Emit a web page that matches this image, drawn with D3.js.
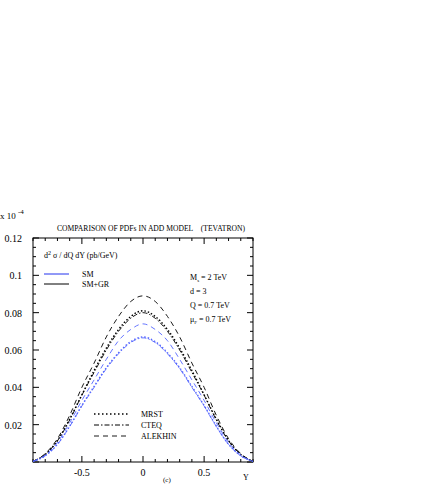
<!DOCTYPE html><html><head><meta charset="utf-8"><script src="https://cdn.jsdelivr.net/npm/d3@7"></script>
<style>body{margin:0;background:#fff}text{font-family:"Liberation Serif",serif;fill:#000}</style></head><body><svg id="c" width="436" height="491"></svg><script>
const Ys=[-0.9,-0.8,-0.7,-0.6,-0.5,-0.4,-0.3,-0.2,-0.1,0,0.1,0.2,0.3,0.4,0.5,0.6,0.7,0.8,0.9];
const alekhinGR=[0.0004,0.0045,0.0125,0.025,0.040,0.053,0.067,0.078,0.086,0.089,0.086,0.078,0.067,0.053,0.040,0.025,0.0125,0.0045,0.0004];
const mrstGR=[0.0004,0.004,0.0115,0.023,0.036,0.049,0.061,0.071,0.078,0.081,0.078,0.071,0.061,0.049,0.036,0.023,0.0115,0.004,0.0004];
const cteqGR=[0.0004,0.004,0.0113,0.0225,0.0358,0.048,0.060,0.070,0.077,0.080,0.077,0.070,0.060,0.048,0.0358,0.0225,0.0113,0.004,0.0004];
const alekhinSM=[0.0003,0.0037,0.0105,0.021,0.033,0.044,0.055,0.065,0.071,0.074,0.071,0.065,0.055,0.044,0.033,0.021,0.0105,0.0037,0.0003];
const mrstSM=[0.0003,0.0034,0.0095,0.0192,0.0303,0.0405,0.0505,0.0585,0.0645,0.067,0.0645,0.0585,0.0505,0.0405,0.0303,0.0192,0.0095,0.0034,0.0003];
const cteqSM=[0.0003,0.0033,0.0094,0.019,0.030,0.040,0.050,0.058,0.064,0.0665,0.064,0.058,0.050,0.040,0.030,0.019,0.0094,0.0033,0.0003];
const xTicks=[-0.5,0,0.5], yTicks=[0.02,0.04,0.06,0.08,0.1,0.12];
const svg=d3.select("#c");
const L=33,R=253,T=238,B=462;
const x=d3.scaleLinear().domain([-0.9,0.9]).range([L,R]);
const y=d3.scaleLinear().domain([0,0.12]).range([B,T]);
svg.append("rect").attr("x",L).attr("y",T).attr("width",R-L).attr("height",B-T).attr("fill","none").attr("stroke","#000");
const g=svg.append("g");
d3.range(-0.9,0.9001,0.1).forEach(v=>{const M=Math.abs(v*2-Math.round(v*2))<1e-6;const l=M?6:3;
 g.append("line").attr("x1",x(v)).attr("x2",x(v)).attr("y1",B).attr("y2",B-l).attr("stroke","#000");
 g.append("line").attr("x1",x(v)).attr("x2",x(v)).attr("y1",T).attr("y2",T+l).attr("stroke","#000");});
d3.range(0,0.12001,0.005).forEach(v=>{const M=Math.abs(v/0.02-Math.round(v/0.02))<1e-6;const l=M?6:3;
 g.append("line").attr("y1",y(v)).attr("y2",y(v)).attr("x1",L).attr("x2",L+l).attr("stroke","#000");
 g.append("line").attr("y1",y(v)).attr("y2",y(v)).attr("x1",R).attr("x2",R-l).attr("stroke","#000");});
yTicks.forEach(v=>svg.append("text").attr("x",22).attr("y",y(v)+4).attr("text-anchor","end").attr("font-size",10).text(v));
xTicks.forEach(v=>svg.append("text").attr("x",x(v)).attr("y",476).attr("text-anchor","middle").attr("font-size",10).text(v));
const line=d3.line().x((d,i)=>x(Ys[i])).y(d=>y(d)).curve(d3.curveMonotoneX);
const ser=[[alekhinGR,"#000","5,4"],[mrstGR,"#000","1.5,2"],[cteqGR,"#000","5,2,1.5,2"],[alekhinSM,"#5566ff","5,4"],[mrstSM,"#5566ff","1.5,2"],[cteqSM,"#5566ff","5,2,1.5,2"]];
ser.forEach(s=>svg.append("path").attr("d",line(s[0])).attr("fill","none").attr("stroke",s[1]).attr("stroke-width",s[2]=="1.5,2"?1.4:0.9).attr("stroke-dasharray",s[2]));
const t=(X,Y,s,f,a)=>svg.append("text").attr("x",X).attr("y",Y).attr("font-size",f||9).attr("text-anchor",a||"start").html(s);
t(0,219,'x 10 <tspan dy="-5" font-size="7">-4</tspan>',9);
t(57,231,"COMPARISON OF PDFs IN ADD MODEL&#160;&#160;&#160;&#160;(TEVATRON)",7.6);
t(44,258,'d<tspan dy="-3" font-size="6">2</tspan><tspan dy="3"> σ / dQ dY (pb/GeV)</tspan>',8);
svg.append("line").attr("x1",44).attr("x2",69).attr("y1",274).attr("y2",274).attr("stroke","#2233ee");
svg.append("line").attr("x1",44).attr("x2",69).attr("y1",284).attr("y2",284).attr("stroke","#000");
t(82,277,"SM",8);t(82,287,"SM+GR",8);
t(190,280,'M<tspan dy="2" font-size="5">s</tspan><tspan dy="-2"> = 2 TeV</tspan>',8);
t(190,294,"d = 3",8);t(190,308,"Q = 0.7 TeV",8);
t(190,322,'μ<tspan dy="2" font-size="5">F</tspan><tspan dy="-2"> = 0.7 TeV</tspan>',8);
[["1.5,2.5",1.5],["5,2,1.5,2",1],["5,4",0.9]].forEach((d,i)=>svg.append("line").attr("x1",94).attr("x2",129).attr("y1",414+i*11).attr("y2",414+i*11).attr("stroke","#000").attr("stroke-width",d[1]).attr("stroke-dasharray",d[0]));
t(141,417,"MRST",8);t(141,428,"CTEQ",8);t(141,439,"ALEKHIN",8);
t(163,482,"(c)",7);t(243,480,"Y",8);
</script></body></html>
